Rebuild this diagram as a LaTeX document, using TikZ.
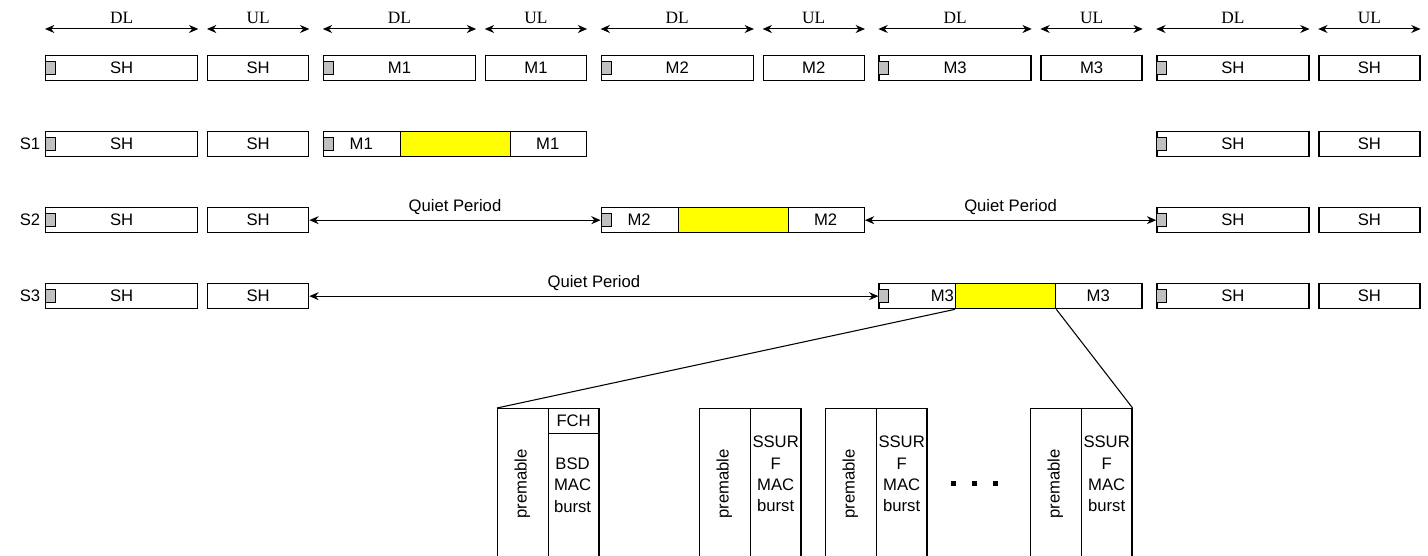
\documentclass[tikz,border=0pt]{standalone}
\usepackage{fontspec}
\setmainfont{Liberation Sans}
\newfontfamily\dlfont{Liberation Serif}
\usetikzlibrary{arrows.meta,calc}
\definecolor{sqgrey}{HTML}{C0C0C0}
\definecolor{ylw}{HTML}{FFFF00}
\begin{document}
\begin{tikzpicture}[x=0.75pt,y=-0.75pt,
  font=\fontsize{12.5}{15}\selectfont,
  box/.style={draw, line width=1pt, inner sep=0pt, minimum height={25*0.75pt}, anchor=north west},
  dlb/.style={box, minimum width={152*0.75pt}},
  ulb/.style={box, minimum width={101*0.75pt}},
  wideb/.style={box, minimum width={263*0.75pt}},
  gsq/.style={draw, fill=sqgrey, line width=0.8pt, inner sep=0pt, minimum width={10*0.75pt}, minimum height={13*0.75pt}, anchor=west},
  ybox/.style={box, fill=ylw},
  span/.style={{Stealth[length=7pt,width=6pt]}-{Stealth[length=7pt,width=6pt]}, line width=0.75pt},
  dimlbl/.style={font=\dlfont\fontsize{13}{15}\selectfont, inner sep=0pt},
  qlbl/.style={inner sep=0pt},
  col/.style={draw, line width=0.9pt, inner sep=0pt, minimum width={50.7*0.75pt}, minimum height={170*0.75pt}, anchor=north west},
  fchbox/.style={draw, line width=0.9pt, inner sep=0pt, minimum width={50.7*0.75pt}, minimum height={25*0.75pt}, anchor=north west},
  coltxt/.style={align=center, inner sep=0pt, font=\fontsize{12.5}{16}\selectfont},
  dot/.style={fill=black, inner sep=0pt, minimum size={5*0.75pt}}
]
\clip (0,0) rectangle (1428,556);

% ---- top reference row ----
\foreach \k/\lbl in {0/SH,1/M1,2/M2,3/M3,4/SH}{
  \pgfmathsetmacro{\dx}{45+277.8*\k}
  \pgfmathsetmacro{\ux}{207+277.8*\k}
  \node[dlb] (t\k d) at (\dx,55) {\lbl};
  \node[gsq] (t\k g) at (t\k d.west) {};
  \node[ulb] (t\k u) at (\ux,55) {\lbl};
  \draw[span] ([yshift=19.5pt]t\k d.north west) -- ([yshift=19.5pt]t\k d.north east)
     node[midway, yshift=8pt, dimlbl] {DL};
  \draw[span] ([yshift=19.5pt]t\k u.north west) -- ([yshift=19.5pt]t\k u.north east)
     node[midway, yshift=8pt, dimlbl] {UL};
}

% ---- station rows: common SH boxes ----
\foreach \r/\y in {1/131,2/207,3/283}{
  \node (lab\r) at (30,\y+12.5) {S\r};
  \node[dlb] (s\r a) at (45,\y) {SH};
  \node[gsq] (s\r ag) at (s\r a.west) {};
  \node[ulb] (s\r b) at (207,\y) {SH};
  \node[dlb] (s\r c) at (1156.2,\y) {SH};
  \node[gsq] (s\r cg) at (s\r c.west) {};
  \node[ulb] (s\r d) at (1318.2,\y) {SH};
}

% ---- S1 burst ----
\node[wideb] (s1m) at (322.8,131) {};
\node[gsq] (s1mg) at (s1m.west) {};
\node[ybox, minimum width={110*0.75pt}] (s1y) at (399.8,131) {};
\node (s1t1) at (361.3,143.5) {M1};
\node (s1t2) at (547.8,143.5) {M1};

% ---- S2 burst ----
\node[wideb] (s2m) at (600.6,207) {};
\node[gsq] (s2mg) at (s2m.west) {};
\node[ybox, minimum width={110*0.75pt}] (s2y) at (677.6,207) {};
\node (s2t1) at (639.1,219.5) {M2};
\node (s2t2) at (825.6,219.5) {M2};
\draw[span] (s2b.east) -- (s2m.west) node[midway, yshift=10pt, qlbl] {Quiet Period};
\draw[span] (s2m.east) -- (s2c.west) node[midway, yshift=10pt, qlbl] {Quiet Period};

% ---- S3 burst ----
\node[wideb] (s3m) at (878.4,283) {};
\node[gsq] (s3mg) at (s3m.west) {};
\node[ybox, minimum width={100*0.75pt}] (s3y) at (955,283) {};
\node[anchor=east, inner sep=0.6pt] (s3t1) at (s3y.west) {M3};
\node (s3t2) at (1098.2,295.5) {M3};
\draw[span] (s3b.east) -- (s3m.west) node[midway, yshift=10pt, qlbl] {Quiet Period};

% ---- expanded view ----
\foreach \g/\gx in {1/497,2/699,3/825,4/1030}{
  \node[col] (p\g) at (\gx,408) {};
  \node[col] (r\g) at (\gx+50.7,408) {};
  \node[rotate=90, inner sep=0pt] (pt\g) at (\gx+25.35,484) {premable};
}
\node[fchbox] (fch) at (r1.north west) {FCH};
\node[coltxt] (bt1) at (572.6,485) {BSD\\MAC\\burst};
\foreach \g in {2,3,4}{
  \node[coltxt] (bt\g) at ($(r\g.north)+(0,66)$) {SSUR\\F\\MAC\\burst};
}
\node[dot] (dt1) at (953,483) {};
\node[dot] (dt2) at (974,483) {};
\node[dot] (dt3) at (995,483) {};

\draw[line width=0.8pt] (s3y.south west) -- (p1.north west);
\draw[line width=0.8pt] (s3y.south east) -- (r4.north east);
\end{tikzpicture}
\end{document}
